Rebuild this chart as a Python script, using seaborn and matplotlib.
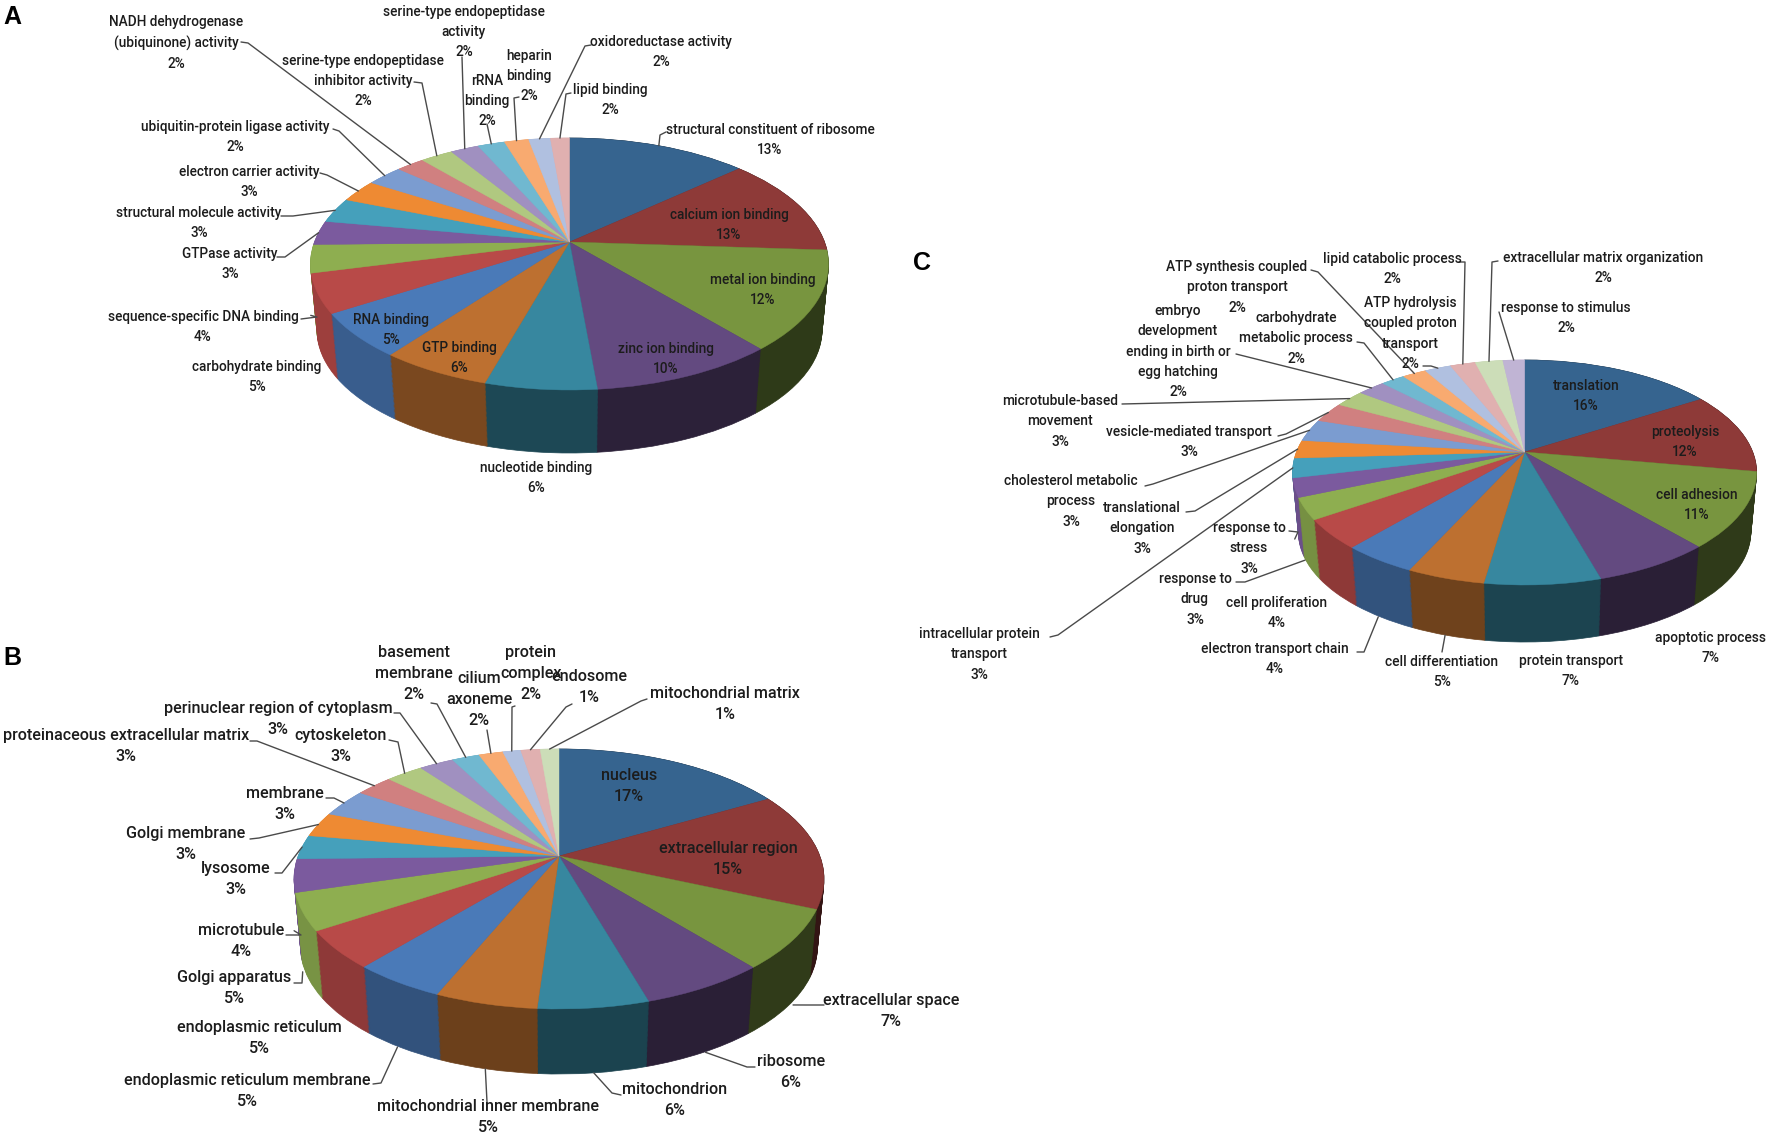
import numpy as np
import matplotlib
matplotlib.use("Agg")
import matplotlib.pyplot as plt
import matplotlib.transforms as mtransforms
import seaborn as sns

# panel A - molecular function
a_labels = ["structural constituent of ribosome", "calcium ion binding", "metal ion binding", "zinc ion binding",
            "nucleotide binding", "GTP binding", "RNA binding", "carbohydrate binding",
            "sequence-specific DNA binding", "GTPase activity", "structural molecule activity",
            "electron carrier activity", "ubiquitin-protein ligase activity",
            "NADH dehydrogenase\n(ubiquinone) activity", "serine-type endopeptidase\ninhibitor activity",
            "serine-type endopeptidase\nactivity", "rRNA\nbinding", "heparin\nbinding",
            "oxidoreductase activity", "lipid binding"]
a_percent = [13, 13, 12, 10, 6, 6, 5, 5, 4, 3, 3, 3, 2, 2, 2, 2, 2, 2, 2, 2]
a_values = [13.3, 12.7, 12.7, 9.8, 5.9, 5.9, 5.7, 5.0, 3.6, 3.1, 3.2, 2.9, 2.7, 2.1, 2.4, 2.1, 2.0, 1.8, 1.6, 1.4]

# panel B - cellular component
b_labels = ["nucleus", "extracellular region", "extracellular space", "ribosome", "mitochondrion",
            "mitochondrial inner membrane", "endoplasmic reticulum membrane", "endoplasmic reticulum",
            "Golgi apparatus", "microtubule", "lysosome", "Golgi membrane", "membrane",
            "proteinaceous extracellular matrix", "cytoskeleton", "perinuclear region of cytoplasm",
            "basement\nmembrane", "cilium\naxoneme", "protein\ncomplex", "endosome", "mitochondrial matrix"]
b_percent = [17, 15, 7, 6, 6, 5, 5, 5, 5, 4, 3, 3, 3, 3, 3, 3, 2, 2, 2, 1, 1]
b_values = [16.8, 14.6, 7.4, 6.5, 5.7, 5.3, 4.8, 4.7, 4.6, 4.1, 3.0, 3.1, 3.5, 2.7, 2.7, 2.5, 2.0, 1.75, 1.3, 1.4, 1.35]

# panel C - biological process
c_labels = ["translation", "proteolysis", "cell adhesion", "apoptotic process", "protein transport",
            "cell differentiation", "electron transport chain", "cell proliferation", "response to\ndrug",
            "response to\nstress", "intracellular protein\ntransport", "translational\nelongation",
            "cholesterol metabolic\nprocess", "vesicle-mediated transport", "microtubule-based\nmovement",
            "embryo\ndevelopment\nending in birth or\negg hatching", "carbohydrate\nmetabolic process",
            "ATP synthesis coupled\nproton transport", "ATP hydrolysis\ncoupled proton\ntransport",
            "lipid catabolic process", "extracellular matrix organization", "response to stimulus"]
c_percent = [16, 12, 11, 7, 7, 5, 4, 4, 3, 3, 3, 3, 3, 3, 3, 2, 2, 2, 2, 2, 2, 2]
c_values = [16.1, 11.7, 10.8, 7.0, 6.8, 4.6, 4.4, 4.2, 3.1, 2.7, 2.8, 2.6, 3.2, 2.9, 2.5, 2.3, 2.0, 2.0, 2.2, 2.1, 2.3, 1.8]

# excel style colours, one per slice
slice_colors = ["#36648f", "#8e3a38", "#78953f", "#634a80", "#37879f", "#bd7030",
                "#4a7ab8", "#b84a48", "#8eae50", "#7b5a9e", "#45a0bb", "#ee8a33",
                "#7b9cd0", "#d08080", "#b0c880", "#a090c0", "#70b8d0", "#f8aa70",
                "#b0c0e0", "#e0b0b0", "#ccddb8", "#c0b4d4"]

# label layout in pixels: first line centre, text side points of the leader, drop down the wall
a_layout = [((770, 129), [(666, 132), (660, 135)], 0), ((729, 214), None, 0), ((763, 279), None, 0),
            ((666, 348), None, 0), ((536, 467), None, 0), ((459, 347), None, 0), ((391, 319), None, 0),
            ((257, 366), None, 0), ((203, 316), [(301, 319), (317, 317)], 0.9),
            ((230, 253), [(277, 257), (285, 257)], 0), ((199, 212), [(281, 216), (293, 216)], 0),
            ((249, 171), [(320, 173), (327, 175)], 0), ((235, 126), [(333, 129), (339, 131)], 0),
            ((176, 21), [(241, 42), (248, 43)], 0), ((363, 60), [(414, 82), (422, 83)], 0),
            ((464, 11), [(462, 57)], 0), ((487, 80), [(487, 124)], 0), ((529, 55), [(519, 97), (514, 98)], 0),
            ((661, 41), [(591, 45), (585, 46)], 0), ((610, 89), [(571, 93), (566, 94)], 0)]
b_layout = [((629, 776), None, 0), ((728, 849), None, 0), ((891, 1001), [(824, 1005), (806, 1005)], 1),
            ((791, 1062), [(755, 1067), (747, 1067)], 1), ((675, 1090), [(621, 1095), (612, 1093)], 1),
            ((488, 1107), [(487, 1102)], 1), ((247, 1081), [(373, 1084), (381, 1083)], 1),
            ((259, 1028), None, 0), ((234, 978), [(294, 983), (302, 983)], 0.92),
            ((241, 931), [(286, 935), (301, 935)], 0.85), ((236, 869), [(275, 873), (282, 873)], 0),
            ((186, 834), [(250, 839), (259, 838)], 0), ((285, 794), [(326, 798), (334, 798)], 0),
            ((126, 736), [(250, 741), (257, 741)], 0), ((341, 736), [(389, 740), (398, 742)], 0),
            ((278, 709), [(394, 713), (400, 713)], 0), ((414, 653), [(431, 703), (437, 704)], 0),
            ((479, 679), [(487, 730)], 0), ((531, 653), [(515, 706), (512, 707)], 0),
            ((589, 677), [(572, 704), (566, 707)], 0), ((725, 694), [(647, 699), (641, 701)], 0)]
c_layout = [((1586, 385), None, 0), ((1685, 431), None, 0), ((1697, 494), None, 0), ((1711, 637), None, 0),
            ((1571, 660), None, 0), ((1442, 661), [(1442, 652)], 1), ((1275, 648), [(1357, 652), (1364, 652)], 1),
            ((1277, 602), None, 0), ((1195, 578), [(1236, 582), (1245, 582)], 0.9),
            ((1249, 527), [(1289, 531), (1298, 532)], 0.9), ((979, 633), [(1050, 637), (1058, 635)], 0),
            ((1142, 507), [(1186, 512), (1195, 511)], 0), ((1071, 480), [(1145, 486), (1153, 484)], 0),
            ((1189, 431), [(1278, 436), (1286, 434)], 0), ((1060, 400), [(1122, 404)], 0),
            ((1178, 310), [(1236, 354)], 0), ((1296, 317), [(1357, 342), (1364, 343)], 0),
            ((1237, 266), [(1311, 270), (1318, 272)], 0), ((1410, 302), [(1423, 366), (1431, 366)], 0),
            ((1392, 258), [(1459, 262), (1465, 262)], 0), ((1603, 257), [(1498, 261), (1492, 262)], 0),
            ((1566, 307), [(1499, 312)], 0)]


class Perspective(mtransforms.Transform):
    """Tilts the unit pie circle away from the viewer, output in figure pixels."""
    input_dims = 2
    output_dims = 2
    is_separable = False

    def __init__(self, geom, scale=1.0, shift=0.0):
        super().__init__()
        self.geom = geom
        self.scale = scale
        self.shift = shift

    def transform_non_affine(self, xy):
        xy = np.asarray(xy, dtype=float)
        g = self.geom
        w = 1 + g["k"] * xy[:, 1]
        px = g["cx"] + self.scale * g["a"] * xy[:, 0] / w
        py = g["cy"] - self.scale * g["b"] * xy[:, 1] / w + self.shift
        return np.column_stack([px, py])


def make_geom(cx, cy, top, front, half_width, depth):
    ratio = (front - cy) / (cy - top)
    k = (ratio - 1) / (ratio + 1)
    return {"cx": cx, "cy": cy, "k": k, "a": half_width * np.sqrt(1 - k ** 2),
            "b": (cy - top) * (1 + k), "depth": depth, "front": front - cy}


def wall_factor(theta):
    # the right side of the wall is in shade, the left side catches the light
    return np.interp(theta, [90, 150, 190, 230, 270, 360], [0.36, 0.42, 0.55, 0.78, 0.95, 0.95])


def draw_pie(ax, values, percent, labels, layout, geom, palette, fontsize, linespacing):
    values = np.array(values, dtype=float)
    colors = palette[:len(values)]
    mids = (np.cumsum(values) - values / 2) / values.sum() * 360

    wall_colors = [tuple(np.array(c) * wall_factor(m)) for c, m in zip(colors, mids)]
    narrow = 0.975
    total_shift = geom["depth"] + (1 - narrow) * geom["front"]
    for t in np.linspace(1, 0, int(geom["depth"] / 1.2)):
        wedges, _ = ax.pie(values, colors=wall_colors, startangle=90, counterclock=False, radius=1)
        tr = Perspective(geom, 1 - (1 - narrow) * t, total_shift * t) + ax.transData
        for w, c in zip(wedges, wall_colors):
            w.set_transform(tr)
            w.set_edgecolor(c)
            w.set_linewidth(0.5)

    wedges, _ = ax.pie(values, colors=colors, startangle=90, counterclock=False, radius=1)
    top_tr = Perspective(geom) + ax.transData
    for w, c in zip(wedges, colors):
        w.set_transform(top_tr)
        w.set_edgecolor(c)
        w.set_linewidth(0.3)

    project = Perspective(geom)
    font_px = fontsize * 100 / 72
    for name, pct, mid, (pos, leader, drop) in zip(labels, percent, mids, layout):
        ax.text(pos[0], pos[1] - font_px * 0.6 + 2, f"{name}\n{pct}%", ha="center", va="top",
                multialignment="center", fontsize=fontsize, linespacing=linespacing, color="#1c1c1c",
                fontweight="medium", zorder=20)
        if leader is not None:
            th = np.radians(mid)
            end = project.transform_non_affine(np.array([[np.sin(th), np.cos(th)]]))[0]
            end[1] += drop * geom["depth"]
            pts = np.array(list(leader) + [tuple(end)])
            ax.plot(pts[:, 0], pts[:, 1], color="#4a4a4a", lw=1.0, zorder=15)


sns.set_theme(style="white")
plt.rcParams["font.family"] = ["Roboto", "DejaVu Sans"]

fig = plt.figure(figsize=(17.72, 11.41), dpi=100, facecolor="white")
ax = fig.add_axes([0, 0, 1, 1])
palette = sns.color_palette(slice_colors)

geom_a = make_geom(569.5, 242, 138, 390, 259, 63)
geom_b = make_geom(559, 856, 749, 1009, 265, 65)
geom_c = make_geom(1524.6, 452, 360, 585, 232, 57)

draw_pie(ax, a_values, a_percent, a_labels, a_layout, geom_a, palette, 9.8, 1.56)
draw_pie(ax, b_values, b_percent, b_labels, b_layout, geom_b, palette, 11.6, 1.49)
draw_pie(ax, c_values, c_percent, c_labels, c_layout, geom_c, palette, 9.9, 1.58)

for letter, x, y in [("A", 3, 17), ("B", 3, 658), ("C", 913, 263)]:
    ax.text(x, y, letter, fontsize=18, fontweight="bold", family="Liberation Sans", va="center", color="black")

ax.set_aspect("auto")
ax.set_xlim(0, 1772)
ax.set_ylim(1141, 0)
ax.axis("off")

fig.savefig("out.png", dpi=100, facecolor="white")
